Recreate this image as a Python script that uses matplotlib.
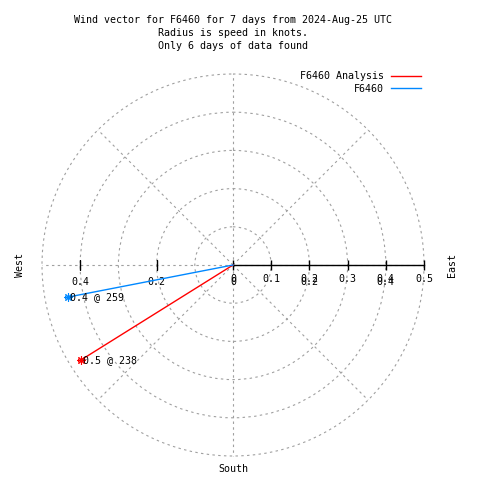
import numpy as np
import matplotlib
matplotlib.use("Agg")
import matplotlib.pyplot as plt

plt.rcParams['font.family'] = ['DejaVu Sans Mono']
plt.rcParams['font.size'] = 7.2

# data (speed in knots, direction in degrees, compass)
names = ["F6460 Analysis", "F6460"]
speeds = [0.47, 0.44]
dirs = [238, 259]
colors = ["#ff0000", "#0088ff"]

r_ticks = [0, 0.1, 0.2, 0.3, 0.4, 0.5]
r_ticks_left = [0.2, 0.4]
r_ticks_dup = [0, 0.2, 0.4]

title_lines = ["Wind vector for F6460 for 7 days from 2024-Aug-25 UTC",
               "Radius is speed in knots.",
               "Only 6 days of data found"]

fig = plt.figure(figsize=(4.8, 4.8), dpi=100)
ax = fig.add_axes([42/480, 24/480, 382/480, 382/480], projection='polar')
ax.set_theta_zero_location('N')
ax.set_theta_direction(-1)
ax.set_ylim(0, 0.5)
ax.set_rgrids([0.1, 0.2, 0.3, 0.4, 0.5], labels=[])
ax.set_thetagrids(range(0, 360, 45), labels=[])
ax.grid(True, color='#a0a0a0', linestyle=(0, (2.2, 3)), linewidth=0.8)
for gl in ax.yaxis.get_gridlines() + ax.xaxis.get_gridlines():
    gl.set_clip_on(False)
ax.spines['polar'].set_visible(False)
ax.patch.set_alpha(0)

east = np.pi / 2
west = 3 * np.pi / 2

# black r axis to the east
ax.plot([east, east], [0, 0.5], color='k', lw=1, zorder=3, clip_on=False)
ax.plot([east] * len(r_ticks), r_ticks, ls='', marker='|', ms=7, mew=1, color='k',
        zorder=3, clip_on=False)
ax.plot([west] * len(r_ticks_left), r_ticks_left, ls='', marker='|', ms=7, mew=1, color='k', zorder=3)

for r in r_ticks:
    ax.annotate(f"{r:g}", xy=(east, r), xytext=(0, -14), textcoords='offset pixels',
                ha='center', va='center')
for r in r_ticks_dup:
    ax.annotate(f"{r:g}", xy=(east, r), xytext=(0, -17), textcoords='offset pixels',
                ha='center', va='center')
for r in r_ticks_left:
    ax.annotate(f"{r:g}", xy=(west, r), xytext=(0, -17), textcoords='offset pixels',
                ha='center', va='center')

handles = []
for name, s, d, c in zip(names, speeds, dirs, colors):
    th = np.deg2rad(d)
    ln, = ax.plot([th, th], [0, s], color=c, lw=1, label=name, zorder=4)
    handles.append(ln)
    ax.plot([th], [s], ls='', marker=(8, 2, 0), ms=6, mew=0.8, color=c, zorder=5)
    ax.annotate(f"{s:.1f} @ {d}", xy=(th, s), xytext=(2, 0), textcoords='offset pixels',
                ha='left', va='center', zorder=6)

fig.legend(handles=handles, loc='upper right', bbox_to_anchor=(421/480, 1 - 71/480),
           frameon=False, markerfirst=False, handlelength=3.0, handletextpad=0.7,
           labelspacing=0.25, borderpad=0, borderaxespad=0)

for i, line in enumerate(title_lines):
    fig.text(233/480, 1 - (20 + 13 * i)/480, line, ha='center', va='center')

fig.text(20/480, 1 - 265/480, "West", rotation=90, ha='center', va='center')
fig.text(452/480, 1 - 265/480, "East", rotation=90, ha='center', va='center')
fig.text(233/480, 1 - 469/480, "South", ha='center', va='center')

fig.savefig("out.png", dpi=100)
